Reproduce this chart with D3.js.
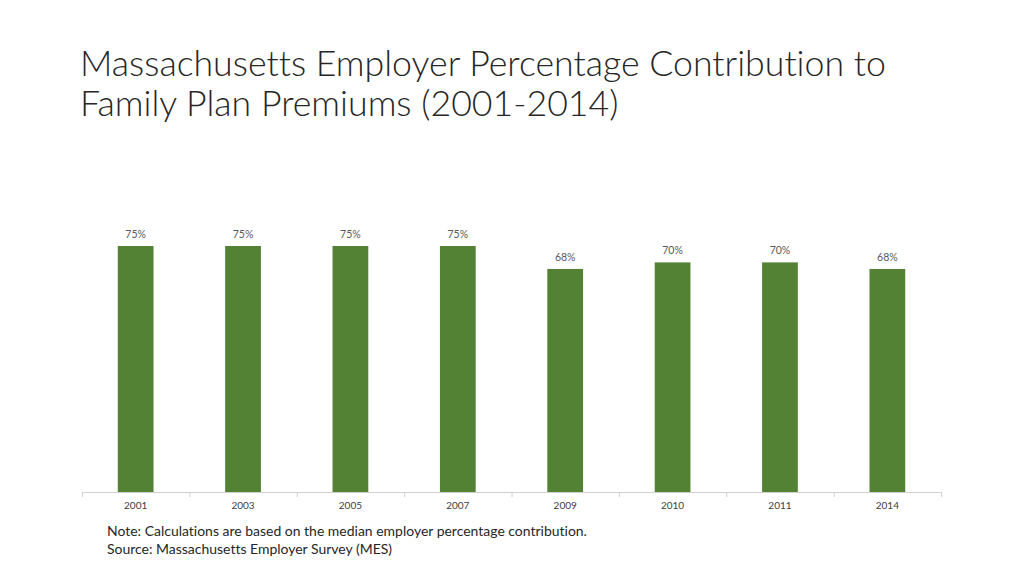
<!DOCTYPE html>
<html>
<head>
<meta charset="utf-8">
<script src="https://cdn.jsdelivr.net/npm/d3@7"></script>
<style>
  body { margin: 0; background: #fff; }
  svg { display: block; font-variant-ligatures: none; }
</style>
</head>
<body>
<svg id="chart" width="1024" height="576"></svg>
<script>
const years = ['2001', '2003', '2005', '2007', '2009', '2010', '2011', '2014'];
const values = [75, 75, 75, 75, 68, 70, 70, 68];
const titleLines = [
    'Massachusetts Employer Percentage Contribution to',
    'Family Plan Premiums (2001-2014)'
];
const notes = [
    'Note: Calculations are based on the median employer percentage contribution.',
    'Source: Massachusetts Employer Survey (MES)'
];

const font = "Lato, 'Open Sans', sans-serif";
const svg = d3.select('#chart');

// scale a group's font so its first line spans the given width
const fitWidth = (sel, size, width) => {
    const w = sel.select('text').node().getComputedTextLength();
    sel.selectAll('text').attr('font-size', size * width / w);
};

const title = svg.append('g').attr('font-family', font).attr('font-weight', 300).attr('fill', '#262626');
title.selectAll('text')
    .data(titleLines)
    .join('text')
    .attr('x', 80)
    .attr('y', (d, i) => 76 + i * 40)
    .attr('font-size', 34)
    .text(d => d);
fitWidth(title, 34, 806);

const x = d3.scaleBand().domain(years).range([82, 941]).paddingInner(0.667).paddingOuter(0.333);
const y = d3.scaleLinear().domain([0, 75]).range([492, 246]);

// bars
svg.append('g')
    .selectAll('rect')
    .data(values)
    .join('rect')
    .attr('x', (d, i) => x(years[i]))
    .attr('y', d => y(d))
    .attr('width', x.bandwidth())
    .attr('height', d => y(0) - y(d))
    .attr('fill', '#548235');

// value labels
svg.append('g')
    .attr('font-family', font)
    .attr('font-size', 10.5)
    .attr('fill', '#595959')
    .attr('text-anchor', 'middle')
    .selectAll('text')
    .data(values)
    .join('text')
    .attr('x', (d, i) => x(years[i]) + x.bandwidth() / 2)
    .attr('y', d => y(d) - 8)
    .text(d => d + '%');

// x axis, ticks sit between categories
const step = x.step();
const axis = svg.append('g');
axis.append('line')
    .attr('x1', 82).attr('x2', 941)
    .attr('y1', 492.5).attr('y2', 492.5)
    .attr('stroke', '#d0d0d0');
axis.selectAll('line.tick')
    .data(d3.range(years.length + 1))
    .join('line')
    .attr('class', 'tick')
    .attr('x1', i => 82.5 + i * step).attr('x2', i => 82.5 + i * step)
    .attr('y1', 492).attr('y2', 497)
    .attr('stroke', '#d0d0d0');
axis.selectAll('text')
    .data(years)
    .join('text')
    .attr('x', d => x(d) + x.bandwidth() / 2)
    .attr('y', 509)
    .attr('text-anchor', 'middle')
    .attr('font-family', font)
    .attr('font-size', 10)
    .attr('fill', '#404040')
    .text(d => d);

// notes
const note = svg.append('g')
    .attr('font-family', font)
    .attr('fill', '#262626');
note.selectAll('text')
    .data(notes)
    .join('text')
    .attr('x', 107)
    .attr('y', (d, i) => 536 + i * 18)
    .attr('font-size', 13)
    .text(d => d);
fitWidth(note, 13, 480);
</script>
</body>
</html>
